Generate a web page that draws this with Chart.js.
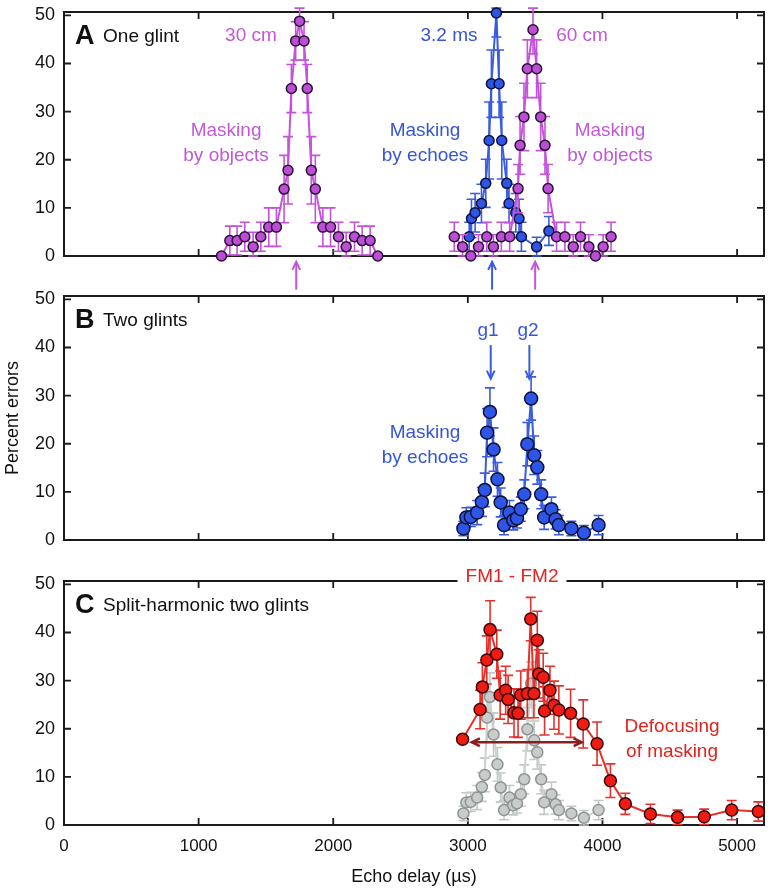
<!DOCTYPE html>
<html><head><meta charset="utf-8">
<script src="https://cdn.jsdelivr.net/npm/chart.js@4.4.1/dist/chart.umd.min.js"></script>
<style>
html,body{margin:0;padding:0;background:#fff;}
#wrap{position:relative;width:778px;height:893px;overflow:hidden;}
#wrap canvas{position:absolute;left:0;top:0;}
#wrap #cA{top:-30px;}
</style></head><body>
<div id="wrap">
<canvas id="cA" width="778" height="893"></canvas>
<canvas id="cB" width="778" height="893"></canvas>
<canvas id="cC" width="778" height="893"></canvas>
</div>
<script>
// ---------- data ----------
const xTicks = [0, 1000, 2000, 3000, 4000, 5000];
const yTicks = [0, 10, 20, 30, 40, 50];

// Panel A: one glint, masking by 30 cm object
const aObj30Delay = [1170,1232,1286,1343,1405,1462,1521,1578,1635,1664,1689,1721,1750,1783,1807,1837,1867,1923,1980,2039,2096,2158,2215,2274,2331];
const aObj30Pct   = [0,3.2,3.2,4,1.9,4,6,6,13.9,17.8,34.8,44.7,48.8,44.7,34.8,17.8,13.9,6,6,4,1.9,4,3.2,3.2,0];
const aObj30Err   = [0,3,3,3,3,3,4,4,7,7,5,4,4,4,5,7,7,4,4,3,3,3,3,3,0];
// Panel A: masking by echoes (3.2 ms)
const aEchoDelay = [3010,3027,3054,3101,3133,3158,3175,3212,3232,3252,3289,3306,3356,3380,3398,3511,3602];
const aEchoPct   = [4,7.8,9,10.9,15.1,24,35.8,50.5,35.8,24,15.1,10.9,9,7.8,4,1.9,5.2];
const aEchoErr   = [3,4,4,4,5,8,7,5,7,8,5,4,4,4,3,2,3];
// Panel A: masking by 60 cm object
const aObj60Delay = [2899,2961,3022,3079,3141,3190,3249,3311,3373,3388,3417,3442,3484,3511,3541,3573,3596,3659,3721,3783,3837,3899,3948,4005,4064];
const aObj60Pct   = [4,1.9,0,1.9,4,1.9,4,4,14,23,28.9,38.9,47,38.9,28.9,23,14,4,4,1.9,4,1.9,0,1.9,4];
const aObj60Err   = [3,2.5,1,2.5,3,2.5,3,3,5,6,7,6,5,6,7,6,5,3,3,2.5,3,2.5,1,2.5,3];

// Panel B: two glints (also shown grey in C)
const bDelay = [2967,2989,3022,3069,3104,3126,3143,3164,3191,3220,3244,3269,3309,3337,3365,3393,3419,3442,3470,3493,3516,3545,3567,3621,3652,3676,3769,3862,3971];
const bPct   = [2.4,4.7,4.8,5.7,7.9,10.4,22.3,26.6,18.8,12.6,7.8,3.1,5.7,4.1,4.5,6.4,9.5,19.9,29.4,17.6,15.1,9.5,4.7,6.4,4.3,3.1,2.4,1.5,3.1];
const bErr   = [1.5,2,2,2.5,3,3.5,5,5,4.5,3.5,3,2,2.5,2,2,2.5,3,4.5,4.5,4,3.5,3,2.5,2.5,2,2,1.5,1.5,2];

// Panel C: split-harmonic two glints
const cDelay = [2961,3091,3108,3141,3165,3215,3240,3281,3299,3343,3373,3393,3442,3467,3491,3516,3528,3560,3570,3610,3640,3676,3763,3857,3960,4059,4170,4356,4558,4756,4960,5158];
const cPct   = [17.8,24,28.7,34.3,40.6,35.5,27,28,26.1,23.3,23.2,27,27.3,42.8,27.3,38.4,31.4,30.7,23.7,28,24.9,23.9,23.2,21,16.9,9.2,4.4,2.3,1.6,1.7,3.1,2.8];
const cErr   = [0,4,5,5,6,5,5,5,5,5,5,5,5,4.5,5,6,5,5,5,5,5,5,5,5,4.5,3.5,2.2,2,1.5,1.6,2,2];

// ---------- styles ----------
const PINK = '#c453dc', PINK_FILL = '#bb4ed4', PINK_TXT = '#c257d8';
const BLUE = '#3a5ce0', BLUE_FILL = '#2f55e6', BLUE_TXT = '#3656d6';
const RED = '#e8302a', RED_FILL = '#f01c14', RED_TXT = '#e2231c';
const GREY = '#cdd1cf', GREY_FILL = '#c8cccb';
const DARKRED = '#8a1f1f';
const SANS = '"Liberation Sans", Arial, sans-serif';
const NARROW = '"Liberation Sans Narrow", "Liberation Sans", Arial, sans-serif';

function pts(xs, ys) { return xs.map((x, i) => ({x: x, y: ys[i]})); }

function series(xs, ys, err, line, fill, edge, radius, errColor) {
  return {
    data: pts(xs, ys), err: err, errColor: errColor || line,
    borderColor: line, borderWidth: 2, tension: 0, showLine: true, clip: false,
    pointRadius: radius, pointHoverRadius: radius,
    pointBackgroundColor: fill, pointBorderColor: edge, pointBorderWidth: 1.5
  };
}

const panelPlugin = {
  id: 'panel',
  beforeDatasetsDraw(chart) {
    const ctx = chart.ctx, a = chart.chartArea, xs = chart.scales.x, ys = chart.scales.y;
    ctx.save();
    ctx.strokeStyle = '#1b1b1b'; ctx.lineWidth = 2;
    ctx.strokeRect(a.left, a.top, a.right - a.left, a.bottom - a.top);
    ctx.lineWidth = 1.8;
    const L = 7;
    yTicks.forEach(v => {
      if (v === 0) return;
      const py = ys.getPixelForValue(v);
      ctx.beginPath(); ctx.moveTo(a.left, py); ctx.lineTo(a.left + L, py);
      ctx.moveTo(a.right, py); ctx.lineTo(a.right - L, py); ctx.stroke();
    });
    xTicks.forEach(v => {
      if (v === 0) return;
      const px = xs.getPixelForValue(v);
      ctx.beginPath(); ctx.moveTo(px, a.bottom); ctx.lineTo(px, a.bottom - L);
      ctx.moveTo(px, a.top); ctx.lineTo(px, a.top + L); ctx.stroke();
    });
    ctx.restore();
  },
  beforeDatasetDraw(chart, args) {
    const ds = chart.data.datasets[args.index];
    if (!ds.err) return;
    const ctx = chart.ctx, xs = chart.scales.x, ys = chart.scales.y;
    ctx.save();
    ctx.strokeStyle = ds.errColor; ctx.lineWidth = 1.6;
    ds.data.forEach((p, i) => {
      const e = ds.err[i]; if (!e) return;
      const px = xs.getPixelForValue(p.x);
      const lo = ys.getPixelForValue(Math.max(0, p.y - e));
      const hi = ys.getPixelForValue(Math.min(51.5, p.y + e));
      ctx.beginPath();
      ctx.moveTo(px, lo); ctx.lineTo(px, hi);
      ctx.moveTo(px - 5, lo); ctx.lineTo(px + 5, lo);
      ctx.moveTo(px - 5, hi); ctx.lineTo(px + 5, hi);
      ctx.stroke();
    });
    ctx.restore();
  },
  afterDraw(chart, args, opts) {
    const ctx = chart.ctx, xs = chart.scales.x, ys = chart.scales.y;
    ctx.save();
    (opts.texts || []).forEach(t => {
      ctx.font = t.font; ctx.textAlign = t.align || 'center'; ctx.textBaseline = 'middle';
      const px = xs.getPixelForValue(t.x);
      t.lines.forEach((s, k) => {
        const py = ys.getPixelForValue(t.y) + k * 25;
        if (t.bg) {
          const w = ctx.measureText(s).width + 16;
          ctx.fillStyle = t.bg; ctx.fillRect(px - w / 2, py - 12, w, 24);
        }
        ctx.fillStyle = t.color; ctx.fillText(s, px, py);
      });
    });
    (opts.arrows || []).forEach(ar => {
      ctx.strokeStyle = ar.color; ctx.lineWidth = ar.width || 2;
      const x0 = xs.getPixelForValue(ar.x0), x1 = xs.getPixelForValue(ar.x1);
      const y0 = ys.getPixelForValue(ar.y0), y1 = ys.getPixelForValue(ar.y1);
      ctx.beginPath(); ctx.moveTo(x0, y0); ctx.lineTo(x1, y1); ctx.stroke();
      const heads = ar.both ? [[x1, y1, x0, y0], [x0, y0, x1, y1]] : [[x1, y1, x0, y0]];
      heads.forEach(h => {
        const ang = Math.atan2(h[1] - h[3], h[0] - h[2]);
        const hl = 9, hw = 0.45;
        ctx.beginPath();
        ctx.moveTo(h[0] - hl * Math.cos(ang - hw), h[1] - hl * Math.sin(ang - hw));
        ctx.lineTo(h[0], h[1]);
        ctx.lineTo(h[0] - hl * Math.cos(ang + hw), h[1] - hl * Math.sin(ang + hw));
        ctx.stroke();
      });
    });
    ctx.restore();
  }
};

function makePanel(id, padTop, padBottom, showX, datasets, annot, yTitle) {
  return new Chart(document.getElementById(id), {
    type: 'line',
    data: { datasets: datasets },
    plugins: [panelPlugin],
    options: {
      responsive: false, animation: false, events: [],
      layout: { padding: { left: 0, right: 14, top: padTop, bottom: padBottom } },
      plugins: { legend: { display: false }, tooltip: { enabled: false }, panel: annot },
      scales: {
        x: {
          type: 'linear', min: 0, max: 5200, display: showX,
          afterFit: s => { s.height = showX ? 68 : 0; },
          grid: { display: false, drawTicks: false }, border: { display: false },
          afterBuildTicks: s => { s.ticks = xTicks.map(v => ({value: v})); },
          ticks: { color: '#111', padding: 11, font: { family: NARROW, size: 17 }, maxRotation: 0,
                   callback: v => String(v) },
          title: { display: showX, text: 'Echo delay (µs)', color: '#111', font: { family: NARROW, size: 18 }, padding: { top: 0, bottom: 5 } }
        },
        y: {
          type: 'linear', min: 0, max: 50.7,
          afterFit: s => { s.width = 64; },
          grid: { display: false, drawTicks: false }, border: { display: false },
          afterBuildTicks: s => { s.ticks = yTicks.map(v => ({value: v})); },
          ticks: { color: '#111', padding: 9, font: { family: SANS, size: 18 }, callback: v => String(v) },
          title: { display: !!yTitle, text: yTitle || '', color: '#111', font: { family: NARROW, size: 18 }, padding: { top: 2, bottom: 0 } }
        }
      }
    }
  });
}

const F19 = '19px ' + SANS, FB = 'bold 27px ' + SANS;

// canvas A is shifted up by 30px, so its padding is offset by 30
makePanel('cA', 42, 893 - 286, false, [
  series(aObj30Delay, aObj30Pct, aObj30Err, PINK, PINK_FILL, '#2a1236', 5),
  series(aObj60Delay, aObj60Pct, aObj60Err, PINK, PINK_FILL, '#2a1236', 5),
  series(aEchoDelay, aEchoPct, aEchoErr, BLUE, BLUE_FILL, '#0c1238', 5)
], {
  texts: [
    { lines: ['A'], x: 82, y: 45.6, color: '#111', font: FB, align: 'left' },
    { lines: ['One glint'], x: 290, y: 45.6, color: '#111', font: F19, align: 'left' },
    { lines: ['30 cm'], x: 1389, y: 45.7, color: PINK_TXT, font: F19 },
    { lines: ['3.2 ms'], x: 2860, y: 45.7, color: BLUE_TXT, font: F19 },
    { lines: ['60 cm'], x: 3848, y: 45.7, color: PINK_TXT, font: F19 },
    { lines: ['Masking', 'by objects'], x: 1204, y: 26.0, color: PINK_TXT, font: F19 },
    { lines: ['Masking', 'by echoes'], x: 2682, y: 26.0, color: BLUE_TXT, font: F19 },
    { lines: ['Masking', 'by objects'], x: 4056, y: 26.0, color: PINK_TXT, font: F19 }
  ],
  arrows: [
    { x0: 1725, x1: 1725, y0: -7, y1: -1.2, color: PINK },
    { x0: 3180, x1: 3180, y0: -7, y1: -1.2, color: BLUE },
    { x0: 3500, x1: 3500, y0: -7, y1: -1.2, color: PINK }
  ]
});

makePanel('cB', 296, 893 - 540, false, [
  series(bDelay, bPct, bErr, BLUE, BLUE_FILL, '#0c1238', 6.5)
], {
  texts: [
    { lines: ['B'], x: 82, y: 45.5, color: '#111', font: FB, align: 'left' },
    { lines: ['Two glints'], x: 290, y: 45.5, color: '#111', font: F19, align: 'left' },
    { lines: ['g1'], x: 3150, y: 43.5, color: BLUE_TXT, font: F19 },
    { lines: ['g2'], x: 3447, y: 43.5, color: BLUE_TXT, font: F19 },
    { lines: ['Masking', 'by echoes'], x: 2682, y: 22.2, color: BLUE_TXT, font: F19 }
  ],
  arrows: [
    { x0: 3170, x1: 3170, y0: 40.5, y1: 33.5, color: BLUE },
    { x0: 3457, x1: 3457, y0: 40.5, y1: 33.5, color: BLUE }
  ]
}, 'Percent errors');

makePanel('cC', 581, 0, true, [
  series(cDelay, cPct, cErr, RED, RED_FILL, '#3a0808', 6),
  series(bDelay, bPct, bErr, GREY, GREY_FILL, '#8f9492', 5.5, '#c4c8c6')
], {
  texts: [
    { lines: ['C'], x: 82, y: 45.5, color: '#111', font: FB, align: 'left' },
    { lines: ['Split-harmonic two glints'], x: 290, y: 45.5, color: '#111', font: F19, align: 'left' },
    { lines: ['FM1 - FM2'], x: 3328, y: 51.6, color: RED_TXT, font: F19, bg: '#ffffff' },
    { lines: ['Defocusing', 'of masking'], x: 4517, y: 20.4, color: RED_TXT, font: F19 }
  ],
  arrows: [
    { x0: 3029, x1: 3846, y0: 17.2, y1: 17.2, color: DARKRED, width: 2.5, both: true }
  ]
});
</script>
</body></html>
